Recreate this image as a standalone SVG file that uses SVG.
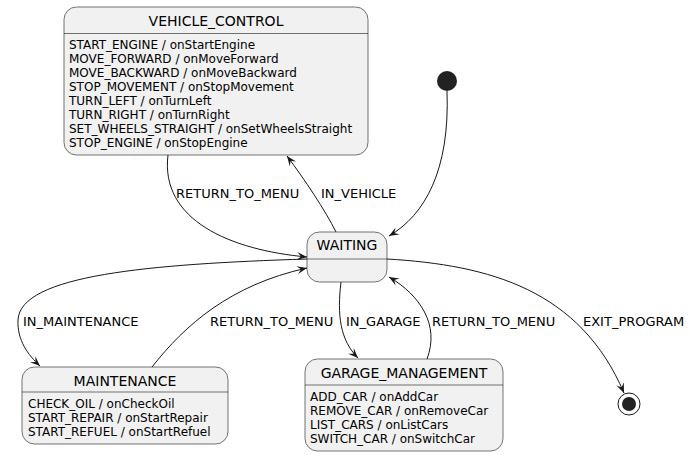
<svg xmlns="http://www.w3.org/2000/svg" width="690" height="456" viewBox="0 0 690 456">
<style>
.box{fill:#F1F1F1;stroke:#181818;stroke-width:0.6}
.sep{stroke:#181818;stroke-width:0.6}
.t{font-family:"DejaVu Sans",sans-serif;font-size:14px;fill:#000;text-anchor:middle}
.b{font-family:"DejaVu Sans",sans-serif;font-size:12px;fill:#000}
.l{font-family:"DejaVu Sans",sans-serif;font-size:13px;fill:#000}
.e{fill:none;stroke:#181818;stroke-width:1}
</style>
<defs>
<marker id="a" viewBox="0 0 10 8" refX="10" refY="4" markerWidth="10" markerHeight="8" markerUnits="userSpaceOnUse" orient="auto">
<path d="M0,0 L10,4 L0,8 L4,4 Z" fill="#181818"/>
</marker>
</defs>
<rect width="690" height="456" fill="#fff"/>
<g id="VEHICLE_CONTROL">
<rect class="box" x="64" y="7" width="304" height="148" rx="12.5"/>
<line class="sep" x1="64" y1="33.5" x2="368" y2="33.5"/>
<text class="t" x="216" y="26">VEHICLE_CONTROL</text>
<text class="b" x="69" y="49">START_ENGINE / onStartEngine</text>
<text class="b" x="69" y="63">MOVE_FORWARD / onMoveForward</text>
<text class="b" x="69" y="77">MOVE_BACKWARD / onMoveBackward</text>
<text class="b" x="69" y="91">STOP_MOVEMENT / onStopMovement</text>
<text class="b" x="69" y="105">TURN_LEFT / onTurnLeft</text>
<text class="b" x="69" y="119">TURN_RIGHT / onTurnRight</text>
<text class="b" x="69" y="133">SET_WHEELS_STRAIGHT / onSetWheelsStraight</text>
<text class="b" x="69" y="147">STOP_ENGINE / onStopEngine</text>
</g>
<g id="start">
<circle cx="447" cy="81" r="10" fill="#222"/>
</g>
<g id="WAITING">
<rect class="box" x="307" y="232" width="80" height="50" rx="12.5"/>
<line class="sep" x1="307" y1="259" x2="387" y2="259"/>
<text class="t" x="347" y="250">WAITING</text>
</g>
<g id="MAINTENANCE">
<rect class="box" x="22" y="367" width="206" height="77" rx="12.5"/>
<line class="sep" x1="22" y1="392" x2="228" y2="392"/>
<text class="t" x="125" y="386">MAINTENANCE</text>
<text class="b" x="28" y="408">CHECK_OIL / onCheckOil</text>
<text class="b" x="28" y="422">START_REPAIR / onStartRepair</text>
<text class="b" x="28" y="436">START_REFUEL / onStartRefuel</text>
</g>
<g id="GARAGE_MANAGEMENT">
<rect class="box" x="305" y="359" width="198" height="92" rx="12.5"/>
<line class="sep" x1="305" y1="385" x2="503" y2="385"/>
<text class="t" x="404" y="378">GARAGE_MANAGEMENT</text>
<text class="b" x="310" y="401">ADD_CAR / onAddCar</text>
<text class="b" x="310" y="415">REMOVE_CAR / onRemoveCar</text>
<text class="b" x="310" y="429">LIST_CARS / onListCars</text>
<text class="b" x="310" y="443">SWITCH_CAR / onSwitchCar</text>
</g>
<g id="end">
<circle cx="629" cy="404" r="11" fill="#fff" stroke="#181818" stroke-width="1"/>
<circle cx="629" cy="404" r="7" fill="#222"/>
</g>
<g id="connectors">
<path class="e" marker-end="url(#a)" d="M447,91 C450,170 425,215 389,236"/>
<path class="e" marker-end="url(#a)" d="M168,155 C160,220 230,250 307,257"/>
<path class="e" marker-end="url(#a)" d="M336,232 C325,210 305,180 287,156"/>
<path class="e" marker-end="url(#a)" d="M307,259 C150,264 20,275 18,320 C17,340 28,355 40,366"/>
<path class="e" d="M152,367 C185,325 230,285 307,268" marker-end="url(#a)"/>
<path class="e" marker-end="url(#a)" d="M341,282 C337,315 340,340 358,358"/>
<path class="e" marker-end="url(#a)" d="M427,359 C440,325 420,295 389,277"/>
<path class="e" marker-end="url(#a)" d="M387,259 C490,265 580,290 624,393"/>
<text class="l" x="176" y="198">RETURN_TO_MENU</text>
<text class="l" x="321" y="198">IN_VEHICLE</text>
<text class="l" x="23" y="326">IN_MAINTENANCE</text>
<text class="l" x="210" y="326">RETURN_TO_MENU</text>
<text class="l" x="346" y="326">IN_GARAGE</text>
<text class="l" x="432" y="326">RETURN_TO_MENU</text>
<text class="l" x="583" y="326">EXIT_PROGRAM</text>
</g>
</svg>
